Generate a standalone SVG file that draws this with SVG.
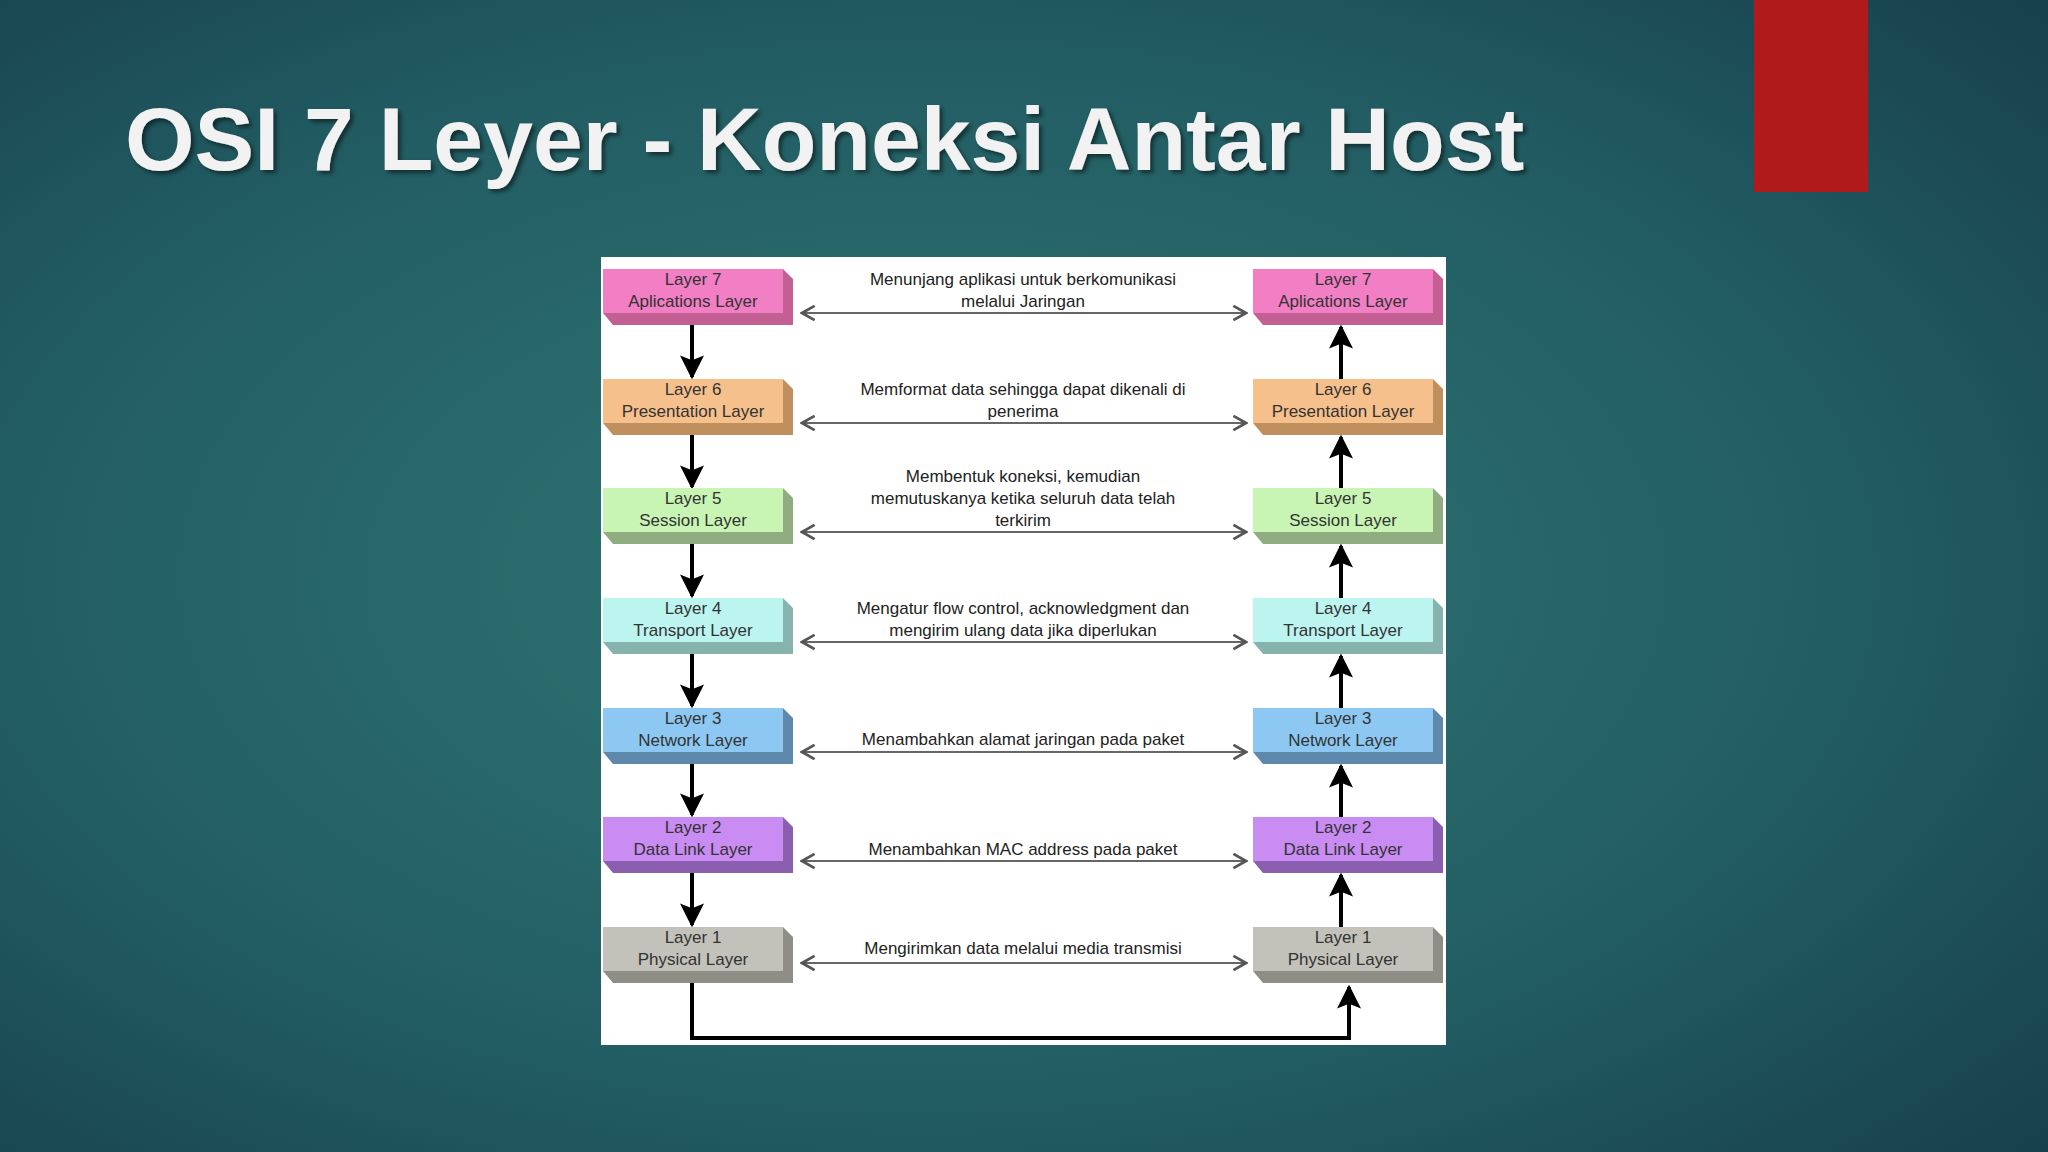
<svg xmlns="http://www.w3.org/2000/svg" width="2048" height="1152" viewBox="0 0 2048 1152">
<defs>
<radialGradient id="bg" cx="0.45" cy="0.5" r="0.75">
<stop offset="0" stop-color="#2f7573"/><stop offset="0.6" stop-color="#225d63"/><stop offset="1" stop-color="#173f4c"/>
</radialGradient>
<marker id="bh" viewBox="0 0 10 10" refX="9" refY="5" markerWidth="6" markerHeight="6" orient="auto"><path d="M0,0 L10,5 L0,10 L2,5 Z" fill="#000"/></marker>
<marker id="th" viewBox="0 0 10 10" refX="9" refY="5" markerWidth="9" markerHeight="9" orient="auto-start-reverse"><path d="M2,1 L9,5 L2,9" fill="none" stroke="#555" stroke-width="1.5"/></marker>
<filter id="sh"><feDropShadow dx="3" dy="3" stdDeviation="2" flood-color="#000" flood-opacity="0.5"/></filter>
</defs>
<style>
.lb{font-family:"Liberation Sans",Arial,sans-serif;font-size:17px;fill:#333;text-anchor:middle}
.ds{font-family:"Liberation Sans",Arial,sans-serif;font-size:17px;fill:#222;text-anchor:middle}
.ha{stroke:#666;stroke-width:2;fill:none;marker-start:url(#th);marker-end:url(#th)}
.va{stroke:#000;stroke-width:4;fill:none;marker-end:url(#bh)}
</style>
<rect width="2048" height="1152" fill="url(#bg)"/>
<rect x="1754" y="0" width="114" height="192" fill="#b01a1a"/>
<text x="125" y="170" font-family="Liberation Sans,Arial,sans-serif" font-weight="bold" font-size="89.5" fill="#f2f2f2" filter="url(#sh)">OSI 7 Leyer - Koneksi Antar Host</text>
<rect x="601" y="257" width="845" height="788" fill="#fff"/>

<g id="connectors">
<path class="ha" d="M802,313 H1246"/><path class="ha" d="M802,423 H1246"/><path class="ha" d="M802,532 H1246"/><path class="ha" d="M802,642 H1246"/><path class="ha" d="M802,752 H1246"/><path class="ha" d="M802,861 H1246"/><path class="ha" d="M802,963 H1246"/>
<path class="va" d="M692,325 V377"/><path class="va" d="M692,435 V487"/><path class="va" d="M692,544 V596"/><path class="va" d="M692,654 V706"/><path class="va" d="M692,764 V815"/><path class="va" d="M692,873 V925"/>
<path class="va" d="M1341,379 V327"/><path class="va" d="M1341,489 V437"/><path class="va" d="M1341,598 V546"/><path class="va" d="M1341,708 V656"/><path class="va" d="M1341,817 V766"/><path class="va" d="M1341,927 V875"/>
<path class="va" d="M692,983 V1038 H1349 V987"/>
</g>
<g class="ds">
<text x="1023" y="285">Menunjang aplikasi untuk berkomunikasi</text><text x="1023" y="307">melalui Jaringan</text>
<text x="1023" y="395">Memformat data sehingga dapat dikenali di</text><text x="1023" y="417">penerima</text>
<text x="1023" y="482">Membentuk koneksi, kemudian</text><text x="1023" y="504">memutuskanya ketika seluruh data telah</text><text x="1023" y="526">terkirim</text>
<text x="1023" y="614">Mengatur flow control, acknowledgment dan</text><text x="1023" y="636">mengirim ulang data jika diperlukan</text>
<text x="1023" y="745">Menambahkan alamat jaringan pada paket</text>
<text x="1023" y="855">Menambahkan MAC address pada paket</text>
<text x="1023" y="954">Mengirimkan data melalui media transmisi</text>
</g>

<g id="L7"><polygon points="603,313 613,325 793,325 793,279 783,269 783,313" fill="#c45f93"/><rect x="603" y="269" width="180" height="44" fill="#f27ec4"/><text class="lb" x="693" y="285">Layer 7</text><text class="lb" x="693" y="307">Aplications Layer</text></g>
<g id="L6"><polygon points="603,423 613,435 793,435 793,389 783,379 783,423" fill="#c08f5e"/><rect x="603" y="379" width="180" height="44" fill="#f6c08c"/><text class="lb" x="693" y="395">Layer 6</text><text class="lb" x="693" y="417">Presentation Layer</text></g>
<g id="L5"><polygon points="603,532 613,544 793,544 793,498 783,488 783,532" fill="#8fad80"/><rect x="603" y="488" width="180" height="44" fill="#c8f5b4"/><text class="lb" x="693" y="504">Layer 5</text><text class="lb" x="693" y="526">Session Layer</text></g>
<g id="L4"><polygon points="603,642 613,654 793,654 793,608 783,598 783,642" fill="#86b3ad"/><rect x="603" y="598" width="180" height="44" fill="#bcf4f0"/><text class="lb" x="693" y="614">Layer 4</text><text class="lb" x="693" y="636">Transport Layer</text></g>
<g id="L3"><polygon points="603,752 613,764 793,764 793,718 783,708 783,752" fill="#5f88ad"/><rect x="603" y="708" width="180" height="44" fill="#8cc8f2"/><text class="lb" x="693" y="724">Layer 3</text><text class="lb" x="693" y="746">Network Layer</text></g>
<g id="L2"><polygon points="603,861 613,873 793,873 793,827 783,817 783,861" fill="#8c5eaf"/><rect x="603" y="817" width="180" height="44" fill="#c98cf2"/><text class="lb" x="693" y="833">Layer 2</text><text class="lb" x="693" y="855">Data Link Layer</text></g>
<g id="L1"><polygon points="603,971 613,983 793,983 793,937 783,927 783,971" fill="#8e8e86"/><rect x="603" y="927" width="180" height="44" fill="#c2c2ba"/><text class="lb" x="693" y="943">Layer 1</text><text class="lb" x="693" y="965">Physical Layer</text></g>

<g id="R7"><polygon points="1253,313 1263,325 1443,325 1443,279 1433,269 1433,313" fill="#c45f93"/><rect x="1253" y="269" width="180" height="44" fill="#f27ec4"/><text class="lb" x="1343" y="285">Layer 7</text><text class="lb" x="1343" y="307">Aplications Layer</text></g>
<g id="R6"><polygon points="1253,423 1263,435 1443,435 1443,389 1433,379 1433,423" fill="#c08f5e"/><rect x="1253" y="379" width="180" height="44" fill="#f6c08c"/><text class="lb" x="1343" y="395">Layer 6</text><text class="lb" x="1343" y="417">Presentation Layer</text></g>
<g id="R5"><polygon points="1253,532 1263,544 1443,544 1443,498 1433,488 1433,532" fill="#8fad80"/><rect x="1253" y="488" width="180" height="44" fill="#c8f5b4"/><text class="lb" x="1343" y="504">Layer 5</text><text class="lb" x="1343" y="526">Session Layer</text></g>
<g id="R4"><polygon points="1253,642 1263,654 1443,654 1443,608 1433,598 1433,642" fill="#86b3ad"/><rect x="1253" y="598" width="180" height="44" fill="#bcf4f0"/><text class="lb" x="1343" y="614">Layer 4</text><text class="lb" x="1343" y="636">Transport Layer</text></g>
<g id="R3"><polygon points="1253,752 1263,764 1443,764 1443,718 1433,708 1433,752" fill="#5f88ad"/><rect x="1253" y="708" width="180" height="44" fill="#8cc8f2"/><text class="lb" x="1343" y="724">Layer 3</text><text class="lb" x="1343" y="746">Network Layer</text></g>
<g id="R2"><polygon points="1253,861 1263,873 1443,873 1443,827 1433,817 1433,861" fill="#8c5eaf"/><rect x="1253" y="817" width="180" height="44" fill="#c98cf2"/><text class="lb" x="1343" y="833">Layer 2</text><text class="lb" x="1343" y="855">Data Link Layer</text></g>
<g id="R1"><polygon points="1253,971 1263,983 1443,983 1443,937 1433,927 1433,971" fill="#8e8e86"/><rect x="1253" y="927" width="180" height="44" fill="#c2c2ba"/><text class="lb" x="1343" y="943">Layer 1</text><text class="lb" x="1343" y="965">Physical Layer</text></g>
</svg>
